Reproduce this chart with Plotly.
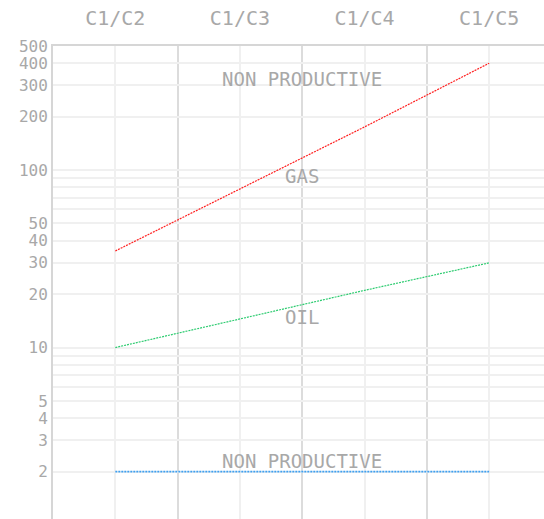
import plotly.graph_objects as go
import numpy as np

# Pixler ratio plot: hydrocarbon ratios on a log scale
ratios = ["C1/C2", "C1/C3", "C1/C4", "C1/C5"]
gas_boundary = [35, 78, 175, 400]
oil_boundary = [10, 14.5, 21, 30]
nonprod_boundary = [2, 2, 2, 2]

y_grid_vals = [2, 3, 4, 5, 6, 7, 8, 9, 10, 20, 30, 40, 50, 60, 70, 80, 90,
               100, 200, 300, 400, 500]
y_labeled = [2, 3, 4, 5, 10, 20, 30, 40, 50, 100, 200, 300, 400, 500]

zone_labels = ["NON PRODUCTIVE", "GAS", "OIL", "NON PRODUCTIVE"]
zone_label_y = [326, 92, 14.9, 2.3]

mono = "DejaVu Sans Mono"
grey = "#a8a8a8"

x_idx = list(range(len(ratios)))

fig = go.Figure()
series = [
    (gas_boundary, "#ff2020", 1.2),
    (oil_boundary, "#2ecc71", 1.2),
    (nonprod_boundary, "#3fa0f0", 1.6),
]
for vals, col, w in series:
    fig.add_trace(go.Scatter(
        x=x_idx, y=vals, mode="lines",
        line=dict(color=col, width=w, dash="2px,1px"),
        hoverinfo="skip", showlegend=False,
    ))

for txt, yv in zip(zone_labels, zone_label_y):
    fig.add_annotation(
        x=1.5, y=np.log10(yv), xref="x", yref="y", text=txt,
        showarrow=False, font=dict(family=mono, size=19, color=grey),
        yanchor="middle",
    )

fig.update_layout(
    width=544, height=519,
    margin=dict(l=53, r=0, t=46, b=0),
    paper_bgcolor="white", plot_bgcolor="white",
    showlegend=False,
    xaxis=dict(
        side="top", range=[-0.5, 3.44],
        tickmode="array", tickvals=x_idx, ticktext=ratios,
        tickfont=dict(family=mono, size=20, color=grey),
        showgrid=True, gridcolor="#f0f0f0", gridwidth=2,
        minor=dict(tickmode="array", tickvals=[0.5, 1.5, 2.5],
                   showgrid=True, gridcolor="#dcdcdc", gridwidth=2),
        showline=True, linecolor="#d6d6d6", linewidth=2,
        ticks="", zeroline=False, ticklabelstandoff=11,
    ),
    yaxis=dict(
        type="log", range=[0.034, np.log10(500)],
        tickmode="array", tickvals=y_grid_vals,
        ticktext=[str(v) if v in y_labeled else "" for v in y_grid_vals],
        tickfont=dict(family=mono, size=16, color=grey),
        showgrid=True, gridcolor="#f0f0f0", gridwidth=2,
        showline=True, linecolor="#d6d6d6", linewidth=2,
        ticks="", zeroline=False, ticklabelstandoff=0,
    ),
)

fig.write_html("out.html")
